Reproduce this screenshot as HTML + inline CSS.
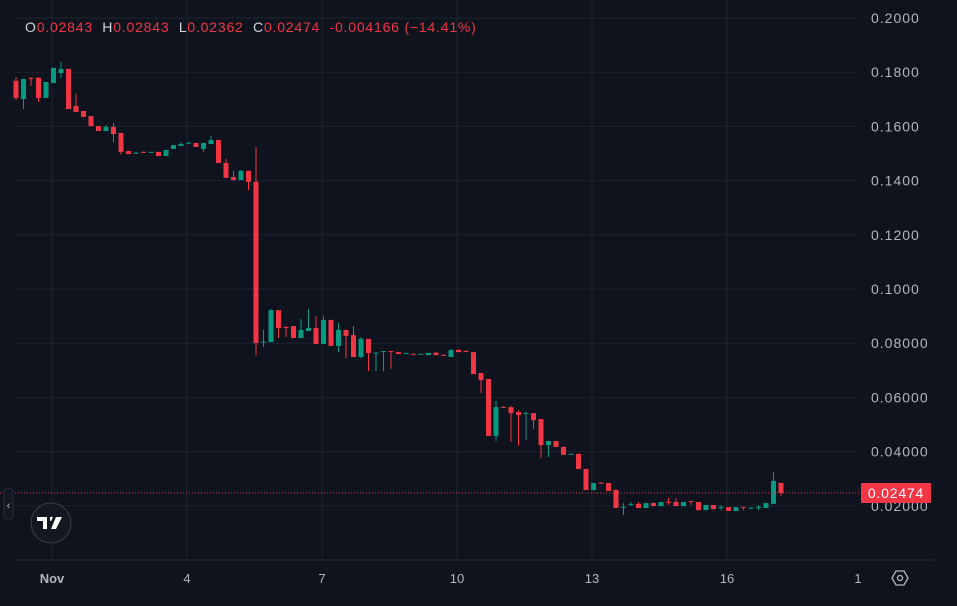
<!DOCTYPE html>
<html><head><meta charset="utf-8"><style>
html,body{margin:0;padding:0;background:#0e131e;width:957px;height:606px;overflow:hidden;font-family:"Liberation Sans",sans-serif}
#hdr{position:absolute;left:25px;top:19px;font-size:14px;color:#f23645;letter-spacing:0.8px}
#hdr b{font-weight:normal;color:#d1d4dc}
svg{position:absolute;left:0;top:0}
</style></head><body>
<svg id="chart" width="957" height="606"></svg>
<div id="hdr"><b>O</b>0.02843&nbsp; <b>H</b>0.02843&nbsp; <b>L</b>0.02362&nbsp; <b>C</b>0.02474&nbsp; -0.004166 (−14.41%)</div>
<script>
const opens=[.1768,.1701,.1779,.1779,.1705,.1760,.1797,.1812,.1675,.1657,.1638,.1601,.1583,.1598,.1576,.1509,.1502,.1506,.1505,.1506,.1491,.1517,.1528,.1539,.1539,.1517,.1535,.1550,.1465,.1413,.1402,.1436,.1395,.0804,.0804,.0922,.0860,.0863,.0819,.0845,.0856,.0797,.0886,.0790,.0849,.0830,.0749,.0816,.0763,.0770,.0771,.0767,.0764,.0761,.0760,.0756,.0765,.0757,.0749,.0775,.0771,.0767,.0690,.0668,.0458,.0565,.0564,.0546,.0541,.0542,.0520,.0424,.0439,.0417,.0390,.0391,.0336,.0258,.0285,.0284,.0258,.0194,.0206,.0207,.0192,.0210,.0199,.0215,.0214,.0199,.0218,.0214,.0184,.0203,.0194,.0195,.0181,.0196,.0191,.0194,.0192,.0207,.02843];
const highs=[.1782,.1775,.1782,.1782,.1764,.1816,.1838,.1812,.1720,.1657,.1638,.1601,.1605,.1612,.1576,.1509,.1506,.1508,.1507,.1506,.1513,.1531,.1542,.1542,.1539,.1539,.1565,.1550,.1480,.1436,.1439,.1436,.1524,.0849,.0926,.0922,.0863,.0863,.0889,.0926,.0900,.0900,.0886,.0875,.0849,.0863,.0823,.0816,.0766,.0772,.0772,.0768,.0765,.0761,.0761,.0764,.0768,.0759,.0777,.0777,.0775,.0767,.0690,.0668,.0587,.0568,.0568,.0553,.0546,.0542,.0520,.0439,.0440,.0419,.0393,.0393,.0336,.0284,.0288,.0284,.0262,.0210,.0214,.0214,.0210,.0212,.0214,.0229,.0229,.0214,.0218,.0214,.0203,.0203,.0203,.0195,.0195,.0196,.0195,.0203,.0210,.0325,.02843];
const lows=[.1697,.1664,.1749,.1690,.1705,.1760,.1779,.1664,.1653,.1635,.1601,.1583,.1583,.1542,.1495,.1498,.1498,.1504,.1503,.1491,.1491,.1517,.1528,.1536,.1524,.1506,.1535,.1465,.1410,.1402,.1402,.1365,.0753,.0786,.0804,.0819,.0823,.0819,.0819,.0845,.0797,.0797,.0790,.0767,.0745,.0749,.0745,.0697,.0697,.0697,.0705,.0760,.0763,.0760,.0760,.0756,.0756,.0755,.0749,.0767,.0770,.0686,.0616,.0458,.0439,.0562,.0436,.0421,.0443,.0483,.0376,.0380,.0417,.0388,.0388,.0336,.0258,.0258,.0283,.0255,.0192,.0166,.0199,.0192,.0192,.0199,.0199,.0203,.0199,.0199,.0203,.0184,.0184,.0186,.0184,.0181,.0181,.0184,.0189,.0184,.0192,.0207,.02362];
const closes=[.1705,.1775,.1777,.1705,.1764,.1816,.1812,.1664,.1653,.1635,.1601,.1583,.1598,.1572,.1506,.1498,.1503,.1505,.1506,.1491,.1513,.1531,.1535,.1540,.1524,.1539,.1550,.1465,.1410,.1402,.1436,.1395,.0801,.0806,.0922,.0856,.0858,.0819,.0849,.0856,.0797,.0886,.0790,.0849,.0827,.0749,.0816,.0764,.0765,.0771,.0770,.0760,.0764,.0760,.0761,.0764,.0756,.0756,.0775,.0767,.0770,.0686,.0664,.0458,.0564,.0563,.0542,.0535,.0543,.0516,.0424,.0439,.0417,.0388,.0392,.0336,.0258,.0284,.0284,.0255,.0192,.0196,.0207,.0192,.0210,.0199,.0214,.0213,.0199,.0214,.0217,.0184,.0203,.0188,.0196,.0181,.0195,.0195,.0193,.0196,.0210,.0292,.02474];
const yTicks=[0.2,0.18,0.16,0.14,0.12,0.10,0.08,0.06,0.04,0.02];
const yTickLabels=["0.2000","0.1800","0.1600","0.1400","0.1200","0.1000","0.08000","0.06000","0.04000","0.02000"];
const dayTicks=[1,4,7,10,13,16,19];
const dayLabels=["Nov","4","7","10","13","16","1"];
const lastPrice=0.02474;

const NS="http://www.w3.org/2000/svg";
const svg=document.getElementById('chart');
const y=v=>18+(0.2-v)*2710;
const xi=i=>16+i*7.5;
const xd=d=>52+(d-1)*45;
function mk(t,a){const e=document.createElementNS(NS,t);for(const k in a)e.setAttribute(k,a[k]);svg.appendChild(e);return e;}

yTicks.forEach((v,i)=>{
  const g=mk('line',{x1:15,x2:858,y1:y(v),y2:y(v),stroke:'#1e2331','stroke-width':1});
  
  
  const t=mk('text',{x:871,y:y(v)+5,fill:'#b2b5be','font-size':14,'letter-spacing':1,'font-family':'Liberation Sans, sans-serif'});
  t.textContent=yTickLabels[i];
  
  
});
dayTicks.forEach((d,i)=>{
  if(i<dayTicks.length-1){
    const g=mk('line',{x1:xd(d),x2:xd(d),y1:0,y2:560,stroke:'#1e2331','stroke-width':1});
    
    
  }
  const t=mk('text',{x:i==dayTicks.length-1?858:xd(d),y:583,fill:'#b2b5be','font-size':13,'text-anchor':'middle','font-weight':i==0?'bold':'normal','font-family':'Liberation Sans, sans-serif'});
  t.textContent=dayLabels[i];
  
  
});
const ax=mk('line',{x1:15,x2:935,y1:560,y2:560,stroke:'#2a2e39','stroke-width':1});



opens.forEach((o,i)=>{
  const c=closes[i],up=c>=o,col=up?'#089981':'#f23645',x=xi(i);
  const w=mk('line',{x1:x,x2:x,y1:y(highs[i]),y2:y(lows[i]),stroke:col,'stroke-width':1});
  
  
  const top=y(Math.max(o,c)),h=Math.max(1,y(Math.min(o,c))-top);
  const b=mk('rect',{x:x-2.5,y:top,width:5,height:h,fill:col});
  
  
});

const pl=mk('line',{x1:0,x2:860,y1:y(lastPrice),y2:y(lastPrice),stroke:'#f23645','stroke-width':1,'stroke-dasharray':'1 2'});


const pb=mk('rect',{x:861,y:y(lastPrice)-10,width:70,height:20,fill:'#f23645',rx:1});


const pt=mk('text',{x:896,y:y(lastPrice)+5,fill:'#fff','font-size':14,'letter-spacing':0.8,'text-anchor':'middle','font-family':'Liberation Sans, sans-serif'});
pt.textContent=lastPrice.toFixed(5);



const tab=mk('rect',{x:4,y:488,width:9,height:32,rx:4,fill:'#131722',stroke:'#2a2e39'});


const tt=mk('text',{x:8.5,y:509,fill:'#b2b5be','font-size':11,'text-anchor':'middle'});
tt.textContent='‹';


const lg=mk('circle',{cx:51,cy:523,r:20,fill:'#131722',stroke:'#3a3e49'});


const lp=mk('path',{d:'M37 517h10v12h-4v-8h-6z M50 517h3l-2 4h-1z M56 517h6l-6 12h-5z',fill:'#fff'});


const gear=mk('polygon',{points:'892,578 896,571 904,571 908,578 904,585 896,585',fill:'none',stroke:'#b2b5be','stroke-width':1.3});


const gc=mk('circle',{cx:900,cy:578,r:2.5,fill:'none',stroke:'#b2b5be','stroke-width':1.3});


</script>
</body></html>
